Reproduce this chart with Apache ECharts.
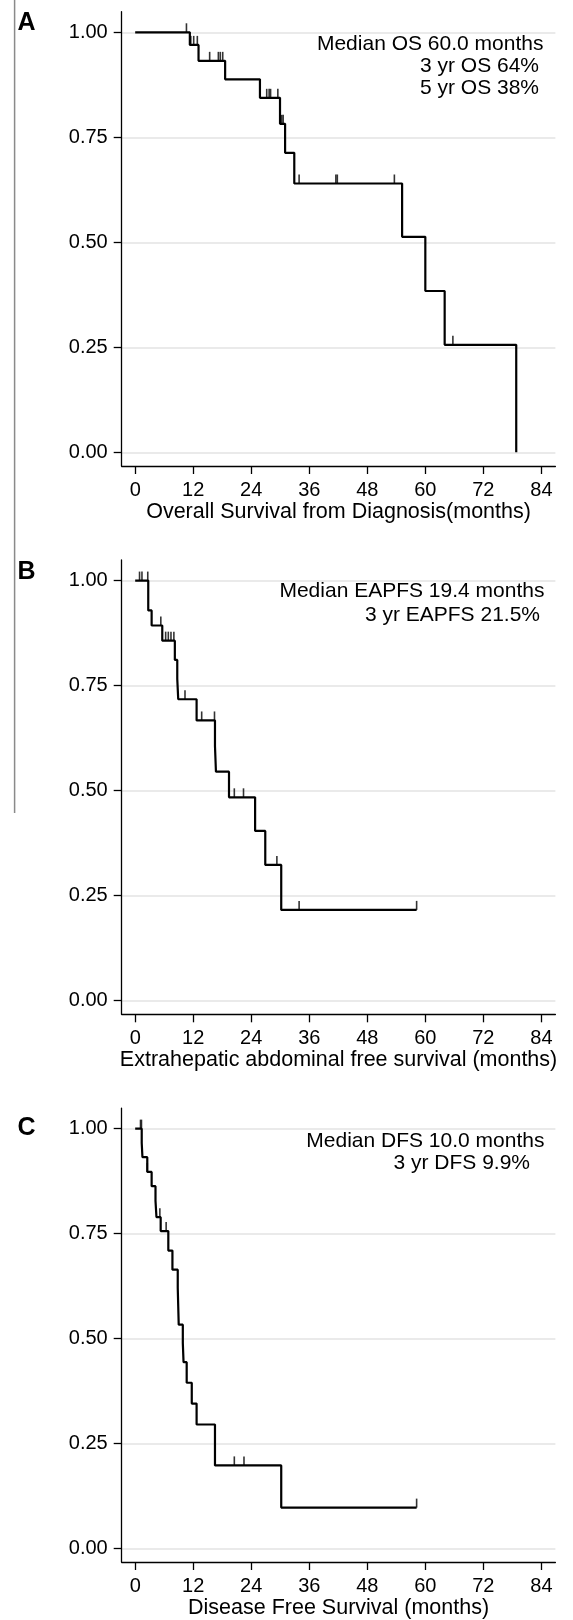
<!DOCTYPE html>
<html>
<head>
<meta charset="utf-8">
<script src="https://cdn.jsdelivr.net/npm/echarts@6.0.0/dist/echarts.min.js"></script>
<style>
  html, body { margin: 0; padding: 0; background: #fff; }
  #main { width: 573px; height: 1620px; }
</style>
</head>
<body>
<div id="main"></div>
<script>
// tick labels
var monthTicks = [0, 12, 24, 36, 48, 60, 72, 84];
var survTicks = [0, 0.25, 0.5, 0.75, 1];

// A: overall survival (step times, survival after each step, censored times)
var osTime = [0, 11.3, 13.1, 18.6, 25.8, 29.95, 31.0, 32.9, 55.2, 60.0, 64.0, 78.8];
var osSurv = [1, 0.970, 0.932, 0.888, 0.844, 0.782, 0.713, 0.640, 0.513, 0.384, 0.256, 0];
var osCensor = [10.6, 11.5, 12.1, 12.85, 15.4, 17.2, 17.6, 18.1, 27.2, 27.7, 28.0, 29.5, 30.3, 30.6, 33.9, 41.5, 41.8, 53.6, 65.7];

// B: extrahepatic abdominal free survival
var eapfsTime = [0, 2.7, 3.4, 5.6, 8.2, 8.7, 8.9, 12.7, 16.5, 16.7, 19.4, 24.8, 26.9, 30.2, 58.2];
var eapfsSurv = [1, 0.929, 0.893, 0.857, 0.811, 0.766, 0.7175, 0.667, 0.606, 0.545, 0.484, 0.404, 0.323, 0.216, 0.216];
var eapfsCensor = [0.9, 1.4, 2.6, 5.3, 6.3, 6.85, 7.4, 8.0, 10.3, 13.75, 16.4, 20.5, 22.4, 29.3, 33.9, 58.2];

// C: disease free survival
var dfsTime = [0, 1.35, 1.5, 2.5, 3.4, 4.2, 4.4, 5.27, 6.85, 7.7, 8.8, 8.9, 9.0, 9.85, 10.0, 10.65, 11.7, 12.7, 16.5, 30.2, 58.2];
var dfsSurv = [1, 0.966, 0.932, 0.897, 0.863, 0.828, 0.789, 0.756, 0.7095, 0.664, 0.621, 0.577, 0.533, 0.489, 0.4436, 0.3945, 0.345, 0.295, 0.1976, 0.097, 0.097];
var dfsCensor = [1.1, 1.3, 2.5, 5.1, 6.4, 20.5, 22.5, 58.2];

var panelLabels = ['A', 'B', 'C'];
var axisNames = [
  'Overall Survival from Diagnosis(months)',
  'Extrahepatic abdominal free survival (months)',
  'Disease Free Survival (months)'
];
var notes = [
  ['Median OS 60.0 months', '3 yr OS 64%', '5 yr OS 38%'],
  ['Median EAPFS 19.4 months', '3 yr EAPFS 21.5%'],
  ['Median DFS 10.0 months', '3 yr DFS 9.9%']
];

var font = 'Liberation Sans, Arial, sans-serif';
var panels = [
  { time: osTime, surv: osSurv, censor: osCensor, top: 11.7 },
  { time: eapfsTime, surv: eapfsSurv, censor: eapfsCensor, top: 560 },
  { time: dfsTime, surv: dfsSurv, censor: dfsCensor, top: 1108.1 }
];

function survAt(times, surv, t) {
  var s = surv[0];
  for (var i = 0; i < times.length; i++) {
    if (times[i] <= t) s = surv[i];
  }
  return s;
}

var grids = [], xAxes = [], yAxes = [], series = [], graphics = [];

// grey rule on the far left
graphics.push({
  type: 'line', shape: { x1: 14.6, y1: 0, x2: 14.6, y2: 813 },
  style: { stroke: '#8a8a8a', lineWidth: 1.5 }
});

var noteRight = [[543.4, 539, 539], [544.4, 540], [544.4, 530]];
var noteY = [[44.3, 66.7, 88.3], [591.7, 615], [1141.7, 1163.3]];
var labelY = [23, 572.5, 1128.3];

panels.forEach(function (p, i) {
  grids.push({ left: 121.7, top: p.top, width: 433.7, height: 454.3 });
  xAxes.push({
    gridIndex: i, type: 'value', min: -2.79, max: 86.9,
    name: axisNames[i], nameLocation: 'middle', nameGap: 35,
    nameTextStyle: { fontSize: 21.5, color: '#000', fontFamily: font },
    axisLine: { show: true, onZero: false, lineStyle: { color: '#000', width: 1.3 } },
    axisTick: { show: true, length: 8, customValues: monthTicks, lineStyle: { color: '#000', width: 1.3 } },
    axisLabel: { customValues: monthTicks, margin: 14, fontSize: 20, color: '#000', fontFamily: font },
    splitLine: { show: false }
  });
  yAxes.push({
    gridIndex: i, type: 'value', min: -0.0326, max: 1.049,
    axisLine: { show: true, onZero: false, lineStyle: { color: '#000', width: 1.3 } },
    axisTick: { show: true, length: 8, customValues: survTicks, lineStyle: { color: '#000', width: 1.3 } },
    axisLabel: {
      customValues: survTicks, margin: 14, fontSize: 20, color: '#000', fontFamily: font,
      formatter: function (v) { return v.toFixed(2); }
    },
    splitLine: { show: true, lineStyle: { color: '#e3e3e3', width: 1.5 } }
  });
  series.push({
    type: 'line', xAxisIndex: i, yAxisIndex: i, step: 'end',
    showSymbol: false, silent: true,
    lineStyle: { color: '#000', width: 2.2 },
    data: p.time.map(function (t, k) { return [t, p.surv[k]]; })
  });
  series.push({
    type: 'scatter', xAxisIndex: i, yAxisIndex: i, silent: true,
    symbol: 'rect', symbolSize: [1.6, 9], symbolOffset: [0, -4.5],
    itemStyle: { color: '#000' },
    data: p.censor.map(function (t) { return [t, survAt(p.time, p.surv, t)]; })
  });
  graphics.push({
    type: 'text', x: 26.5, y: labelY[i],
    style: { text: panelLabels[i], fontSize: 25, fontWeight: 'bold', fill: '#000', fontFamily: font, align: 'center', verticalAlign: 'middle' }
  });
  notes[i].forEach(function (line, j) {
    graphics.push({
      type: 'text', x: noteRight[i][j], y: noteY[i][j],
      style: { text: line, fontSize: 21, fill: '#000', fontFamily: font, align: 'right', verticalAlign: 'middle' }
    });
  });
});

var chart = echarts.init(document.getElementById('main'));
chart.setOption({
  animation: false,
  grid: grids,
  xAxis: xAxes,
  yAxis: yAxes,
  series: series,
  graphic: graphics
});
</script>
</body>
</html>
